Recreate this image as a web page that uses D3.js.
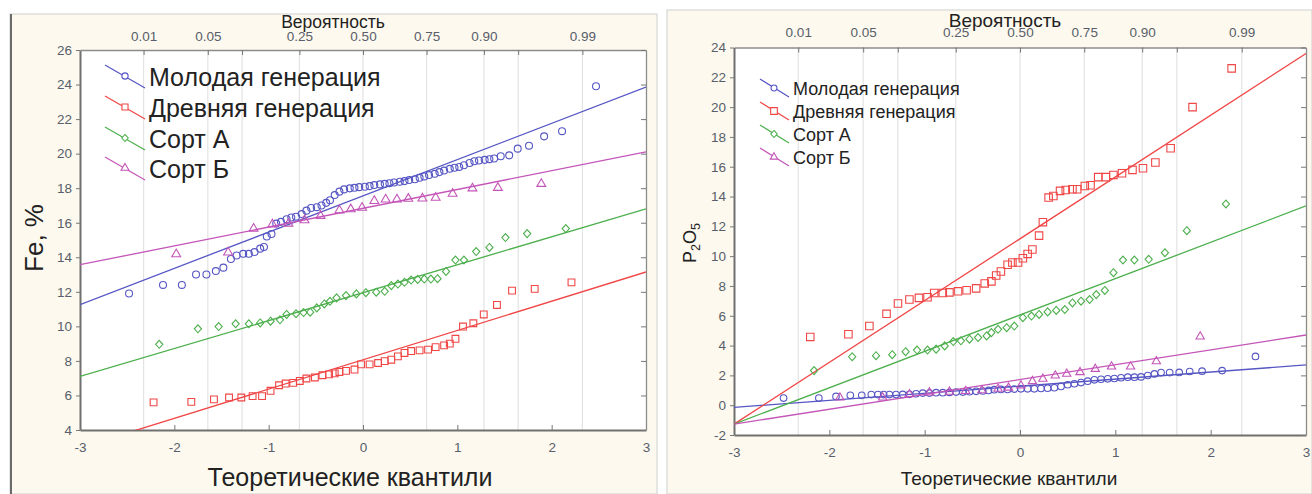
<!DOCTYPE html>
<html lang="ru">
<head>
<meta charset="utf-8">
<title>Нормальные вероятностные графики Fe и P2O5</title>
<script src="https://cdn.jsdelivr.net/npm/d3@7"></script>
<style>
  body { margin: 0; background: #fff; }
  svg { display: block; font-family: "Liberation Sans", Arial, sans-serif; }
  .tick text { fill: #585e6a; font-size: 13.5px; }
</style>
</head>
<body>
<svg id="chart" width="1312" height="494"></svg>
<script>
// ---- data ----
var seriesNames = ["Молодая генерация", "Древняя генерация", "Сорт А", "Сорт Б"];
var seriesColors = ["#5656c4", "#f04646", "#4caf4c", "#c455b8"];

var probLabels = ["0.01", "0.05", "", "0.25", "0.50", "0.75", "0.90", "", "0.99"];
var probQuantiles = [-2.326, -1.645, -1.282, -0.674, 0, 0.674, 1.282, 1.645, 2.326];
var quantileTicks = [-3, -2, -1, 0, 1, 2, 3];
var feTicks = [4, 6, 8, 10, 12, 14, 16, 18, 20, 22, 24, 26];
var pTicks = [-2, 0, 2, 4, 6, 8, 10, 12, 14, 16, 18, 20, 22, 24];

// Fe, %  -- [теоретический квантиль, значение]
var feYoung = [[-2.48,11.9],[-2.12,12.4],[-1.92,12.4],[-1.77,13.0],[-1.66,13.0],[-1.56,13.2],[-1.48,13.4],[-1.40,13.9],
  [-1.34,14.1],[-1.27,14.2],[-1.21,14.2],[-1.15,14.3],[-1.09,14.5],[-1.05,14.6],[-1.02,15.2],[-0.97,15.35],[-0.92,15.95],
  [-0.87,16.05],[-0.81,16.2],[-0.76,16.3],[-0.71,16.35],[-0.65,16.5],[-0.60,16.7],[-0.55,16.85],[-0.49,16.9],[-0.44,17.0],
  [-0.39,17.15],[-0.35,17.3],[-0.30,17.6],[-0.25,17.8],[-0.20,17.93],[-0.14,17.99],[-0.09,18.02],[-0.04,18.06],[0.02,18.08],
  [0.07,18.12],[0.12,18.18],[0.18,18.22],[0.23,18.25],[0.28,18.29],[0.33,18.33],[0.39,18.37],[0.44,18.41],[0.49,18.47],
  [0.55,18.52],[0.60,18.6],[0.65,18.68],[0.70,18.76],[0.76,18.83],[0.81,18.93],[0.86,19.02],[0.92,19.12],[0.97,19.18],
  [1.02,19.23],[1.07,19.33],[1.13,19.46],[1.18,19.56],[1.23,19.6],[1.29,19.64],[1.34,19.68],[1.39,19.72],[1.46,19.85],
  [1.55,19.9],[1.64,20.29],[1.76,20.46],[1.92,21.0],[2.11,21.3],[2.47,23.9]];
var feOld = [[-2.22,5.6],[-1.82,5.63],[-1.58,5.77],[-1.42,5.88],[-1.29,5.88],[-1.17,5.96],[-1.07,5.96],[-0.98,6.27],
  [-0.89,6.59],[-0.82,6.69],[-0.74,6.73],[-0.67,6.84],[-0.60,6.98],[-0.51,7.04],[-0.43,7.17],[-0.36,7.22],[-0.30,7.28],
  [-0.25,7.36],[-0.18,7.42],[-0.09,7.5],[-0.02,7.8],[0.07,7.8],[0.16,7.88],[0.23,7.99],[0.30,8.07],[0.37,8.26],[0.44,8.46],
  [0.51,8.57],[0.60,8.61],[0.69,8.65],[0.77,8.8],[0.86,8.9],[0.92,9.0],[0.98,9.28],[1.06,9.99],[1.17,10.18],[1.28,10.69],
  [1.42,11.24],[1.58,12.07],[1.82,12.17],[2.21,12.55]];
var feSortA = [[-2.16,8.96],[-1.75,9.86],[-1.53,9.99],[-1.35,10.15],[-1.21,10.15],[-1.09,10.2],[-0.98,10.3],[-0.88,10.38],
  [-0.81,10.69],[-0.71,10.73],[-0.63,10.8],[-0.56,10.82],[-0.49,11.07],[-0.41,11.3],[-0.35,11.45],[-0.28,11.65],[-0.18,11.78],
  [-0.07,11.88],[0.03,11.95],[0.14,11.98],[0.23,12.03],[0.30,12.36],[0.37,12.45],[0.44,12.55],[0.51,12.68],[0.58,12.72],
  [0.65,12.74],[0.72,12.74],[0.79,12.76],[0.88,13.18],[0.98,13.84],[1.07,13.84],[1.20,14.33],[1.34,14.57],[1.51,15.14],
  [1.74,15.37],[2.15,15.66]];
var feSortB = [[-1.98,14.18],[-1.43,14.28],[-1.16,15.66],[-0.96,15.91],[-0.79,15.95],[-0.62,16.15],[-0.45,16.4],[-0.25,16.72],
  [-0.13,16.78],[-0.01,16.87],[0.12,17.26],[0.24,17.35],[0.36,17.35],[0.48,17.39],[0.63,17.41],[0.77,17.45],[0.95,17.68],
  [1.16,17.99],[1.43,18.02],[1.89,18.25]];
// линии нормального распределения: значение при -3 и при 3
var feFits = [[11.26, 23.85], [2.98, 13.15], [7.1, 16.8], [13.57, 20.1]];

// P2O5
var pYoung = [[-2.48,0.48],[-2.11,0.48],[-1.93,0.59],[-1.78,0.66],[-1.66,0.66],[-1.56,0.71],[-1.49,0.71],[-1.43,0.71],
  [-1.37,0.71],[-1.30,0.71],[-1.23,0.72],[-1.16,0.73],[-1.09,0.77],[-1.02,0.81],[-0.95,0.81],[-0.88,0.84],[-0.81,0.84],
  [-0.74,0.86],[-0.67,0.88],[-0.60,0.88],[-0.53,0.9],[-0.46,0.93],[-0.39,0.95],[-0.33,0.99],[-0.27,1.04],[-0.20,1.06],
  [-0.13,1.06],[-0.06,1.08],[0.01,1.1],[0.08,1.1],[0.15,1.1],[0.22,1.12],[0.29,1.14],[0.36,1.17],[0.43,1.26],[0.50,1.37],
  [0.57,1.44],[0.64,1.52],[0.71,1.61],[0.78,1.7],[0.85,1.74],[0.92,1.77],[0.99,1.79],[1.06,1.84],[1.13,1.88],[1.20,1.88],
  [1.27,1.9],[1.34,1.99],[1.41,2.1],[1.48,2.19],[1.57,2.19],[1.67,2.2],[1.78,2.26],[1.91,2.28],[2.12,2.32],[2.47,3.27]];
var pOld = [[-2.20,4.58],[-1.80,4.76],[-1.58,5.31],[-1.40,6.13],[-1.28,6.82],[-1.16,7.09],[-1.06,7.2],[-0.97,7.24],
  [-0.90,7.53],[-0.81,7.53],[-0.74,7.57],[-0.65,7.64],[-0.56,7.71],[-0.46,7.84],[-0.37,8.17],[-0.30,8.31],[-0.25,8.7],
  [-0.20,8.97],[-0.13,9.42],[-0.08,9.57],[-0.02,9.57],[0.03,9.86],[0.08,10.15],[0.13,10.45],[0.20,11.38],[0.24,12.28],
  [0.30,13.93],[0.35,14.04],[0.42,14.38],[0.48,14.44],[0.55,14.49],[0.60,14.49],[0.68,14.71],[0.74,14.76],[0.82,15.3],
  [0.90,15.3],[0.98,15.45],[1.07,15.56],[1.18,15.79],[1.29,15.9],[1.42,16.28],[1.58,17.24],[1.81,20.0],[2.22,22.6]];
var pSortA = [[-2.16,2.32],[-1.76,3.25],[-1.51,3.32],[-1.34,3.39],[-1.20,3.59],[-1.08,3.7],[-0.97,3.7],[-0.88,3.76],
  [-0.79,3.98],[-0.70,4.27],[-0.62,4.32],[-0.53,4.43],[-0.44,4.54],[-0.35,4.65],[-0.30,4.87],[-0.23,5.09],[-0.14,5.2],
  [-0.06,5.31],[0.03,5.87],[0.12,5.98],[0.20,6.09],[0.29,6.26],[0.38,6.36],[0.47,6.42],[0.55,6.86],[0.64,6.98],[0.73,7.09],
  [0.80,7.42],[0.89,7.7],[0.98,8.89],[1.08,9.74],[1.20,9.74],[1.35,9.79],[1.52,10.23],[1.75,11.71],[2.16,13.5]];
var pSortB = [[-1.89,0.51],[-1.44,0.51],[-1.16,0.73],[-0.95,0.85],[-0.74,0.9],[-0.57,0.95],[-0.40,1.0],[-0.23,1.1],
  [-0.12,1.17],[0.01,1.32],[0.13,1.61],[0.24,1.77],[0.37,1.99],[0.49,2.1],[0.63,2.21],[0.79,2.43],[0.96,2.59],[1.16,2.59],
  [1.43,2.94],[1.89,4.6]];
var pFits = [[-0.15, 2.7], [-1.27, 23.6], [-1.27, 13.37], [-1.27, 4.71]];

// ---- drawing ----
var svg = d3.select("#chart");

// ромб как квадрат, повернутый на 45 градусов
var symbolRhomb = {
  draw: function(ctx, size) {
    var r = Math.sqrt(size / 2);
    ctx.moveTo(0, -r * 1.1); ctx.lineTo(r, 0); ctx.lineTo(0, r * 1.1); ctx.lineTo(-r, 0); ctx.closePath();
  }
};
var symbolTypes = [d3.symbolCircle, d3.symbolSquare, symbolRhomb, d3.symbolTriangle];

var panels = [
  { id: "fe", box: [10, 14, 657, 494], left: 80, right: 646, top: 50, bottom: 430,
    yDomain: [4, 26], yTicks: feTicks, series: [feYoung, feOld, feSortA, feSortB], fits: feFits,
    sizes: [38, 46, 26, 34], topPad: 9, xTitle: [350, 477, 25], yTitle: [34, 238, 26],
    probTitle: [333, 28, 17.5], legend: { x0: 105, x1: 145, xm: 125, tx: 149, rows: [77, 108, 139, 169], font: 25, up: 12, down: 11 } },
  { id: "p", box: [667, 10, 1312, 494], left: 734, right: 1306, top: 47.5, bottom: 435,
    yDomain: [-2, 24], yTicks: pTicks, series: [pYoung, pOld, pSortA, pSortB], fits: pFits,
    sizes: [34, 56, 26, 30], topPad: 11, xTitle: [1009, 478, 19], yTitle: [690, 243, 18],
    probTitle: [1005, 27, 19], legend: { x0: 760, x1: 789, xm: 774, tx: 793, rows: [89, 112, 135, 158], font: 18, up: 10, down: 8 } }
];

panels.forEach(function(p) {
  var g = svg.append("g").attr("class", "panel-" + p.id);

  // фон панели
  g.append("rect")
    .attr("x", p.box[0]).attr("y", p.box[1])
    .attr("width", p.box[2] - p.box[0]).attr("height", p.box[3] - p.box[1])
    .attr("fill", "#fdf9ee").attr("stroke", "#cfcfcf");
  if (p.id === "fe") {
    g.append("line").attr("x1", p.box[0] + 1).attr("x2", p.box[0] + 1)
      .attr("y1", p.box[1]).attr("y2", p.box[3]).attr("stroke", "#6b6b6b").attr("stroke-width", 2);
  }

  var x = d3.scaleLinear().domain([-3, 3]).range([p.left, p.right]);
  var y = d3.scaleLinear().domain(p.yDomain).range([p.bottom, p.top]);

  g.append("rect").attr("x", p.left).attr("y", p.top)
    .attr("width", p.right - p.left).attr("height", p.bottom - p.top).attr("fill", "#fff");

  // вертикальная сетка по вероятностям
  g.append("g").selectAll("line").data(probQuantiles).join("line")
    .attr("x1", function(d) { return x(d); }).attr("x2", function(d) { return x(d); })
    .attr("y1", p.top).attr("y2", p.bottom)
    .attr("stroke", "#e3e3e3").attr("stroke-width", 1.2);

  // оси
  var axB = g.append("g").attr("transform", "translate(0," + p.bottom + ")")
    .call(d3.axisBottom(x).tickValues(quantileTicks).tickSize(-5).tickSizeOuter(0).tickPadding(12)
      .tickFormat(function(d) { return d; }));
  var axT = g.append("g").attr("transform", "translate(0," + p.top + ")")
    .call(d3.axisTop(x).tickValues(probQuantiles).tickSize(-5).tickSizeOuter(0).tickPadding(p.topPad)
      .tickFormat(function(d, i) { return probLabels[i]; }));
  var axL = g.append("g").attr("transform", "translate(" + p.left + ",0)")
    .call(d3.axisLeft(y).tickValues(p.yTicks).tickSize(4).tickSizeOuter(0).tickPadding(4)
      .tickFormat(function(d) { return d; }));
  var axR = g.append("g").attr("transform", "translate(" + p.right + ",0)")
    .call(d3.axisRight(y).tickValues(p.yTicks).tickSize(-5).tickSizeOuter(0).tickFormat(""));

  [axB, axL].forEach(function(a) {
    a.select(".domain").attr("stroke", "#707070").attr("stroke-width", 2);
  });
  [axT, axR].forEach(function(a) {
    a.select(".domain").attr("stroke", "#8c8c8c").attr("stroke-width", 1.3);
  });
  g.selectAll(".tick line").attr("stroke", "#777");
  g.selectAll(".tick text").attr("font-family", "Liberation Sans, Arial, sans-serif");

  // линии и точки
  var clipId = "clip-" + p.id;
  g.append("clipPath").attr("id", clipId).append("rect")
    .attr("x", p.left).attr("y", p.top).attr("width", p.right - p.left).attr("height", p.bottom - p.top);
  var plot = g.append("g").attr("clip-path", "url(#" + clipId + ")");
  var line = d3.line().x(function(d) { return x(d[0]); }).y(function(d) { return y(d[1]); });

  p.series.forEach(function(s, i) {
    plot.append("path")
      .datum([[-3, p.fits[i][0]], [3, p.fits[i][1]]])
      .attr("d", line).attr("fill", "none")
      .attr("stroke", seriesColors[i]).attr("stroke-width", 1.3);
    plot.append("g").selectAll("path").data(s).join("path")
      .attr("transform", function(d) { return "translate(" + x(d[0]) + "," + y(d[1]) + ")"; })
      .attr("d", d3.symbol().type(symbolTypes[i]).size(p.sizes[i]))
      .attr("fill", "none").attr("stroke", seriesColors[i]).attr("stroke-width", 1.1);
  });

  // легенда
  var L = p.legend;
  var lg = g.append("g");
  seriesNames.forEach(function(name, i) {
    var c = L.rows[i];
    lg.append("line").attr("x1", L.x0).attr("y1", c - L.up).attr("x2", L.x1).attr("y2", c + L.down)
      .attr("stroke", seriesColors[i]).attr("stroke-width", 1.2);
    lg.append("path").attr("transform", "translate(" + L.xm + "," + (c - 1) + ")")
      .attr("d", d3.symbol().type(symbolTypes[i]).size(p.sizes[i] * 0.8))
      .attr("fill", "#fff").attr("stroke", seriesColors[i]).attr("stroke-width", 1.1);
    lg.append("text").attr("x", L.tx).attr("y", c + L.font * 0.36)
      .attr("font-size", L.font).attr("fill", "#222").text(name);
  });

  // подписи осей
  g.append("text").attr("x", p.probTitle[0]).attr("y", p.probTitle[1])
    .attr("text-anchor", "middle").attr("font-size", p.probTitle[2]).attr("fill", "#222")
    .text("Вероятность");
  g.append("text").attr("x", p.xTitle[0]).attr("y", p.xTitle[1] + p.xTitle[2] * 0.36)
    .attr("text-anchor", "middle").attr("font-size", p.xTitle[2]).attr("fill", "#222")
    .text("Теоретические квантили");
  var yt = g.append("text")
    .attr("transform", "translate(" + p.yTitle[0] + "," + p.yTitle[1] + ") rotate(-90)")
    .attr("text-anchor", "middle").attr("dy", "0.36em")
    .attr("font-size", p.yTitle[2]).attr("fill", "#222");
  if (p.id === "fe") {
    yt.text("Fe, %");
  } else {
    yt.append("tspan").text("P");
    yt.append("tspan").attr("font-size", p.yTitle[2] * 0.7).attr("dy", 4).text("2");
    yt.append("tspan").attr("dy", -4).text("O");
    yt.append("tspan").attr("font-size", p.yTitle[2] * 0.7).attr("dy", 4).text("5");
  }
});
</script>
</body>
</html>
